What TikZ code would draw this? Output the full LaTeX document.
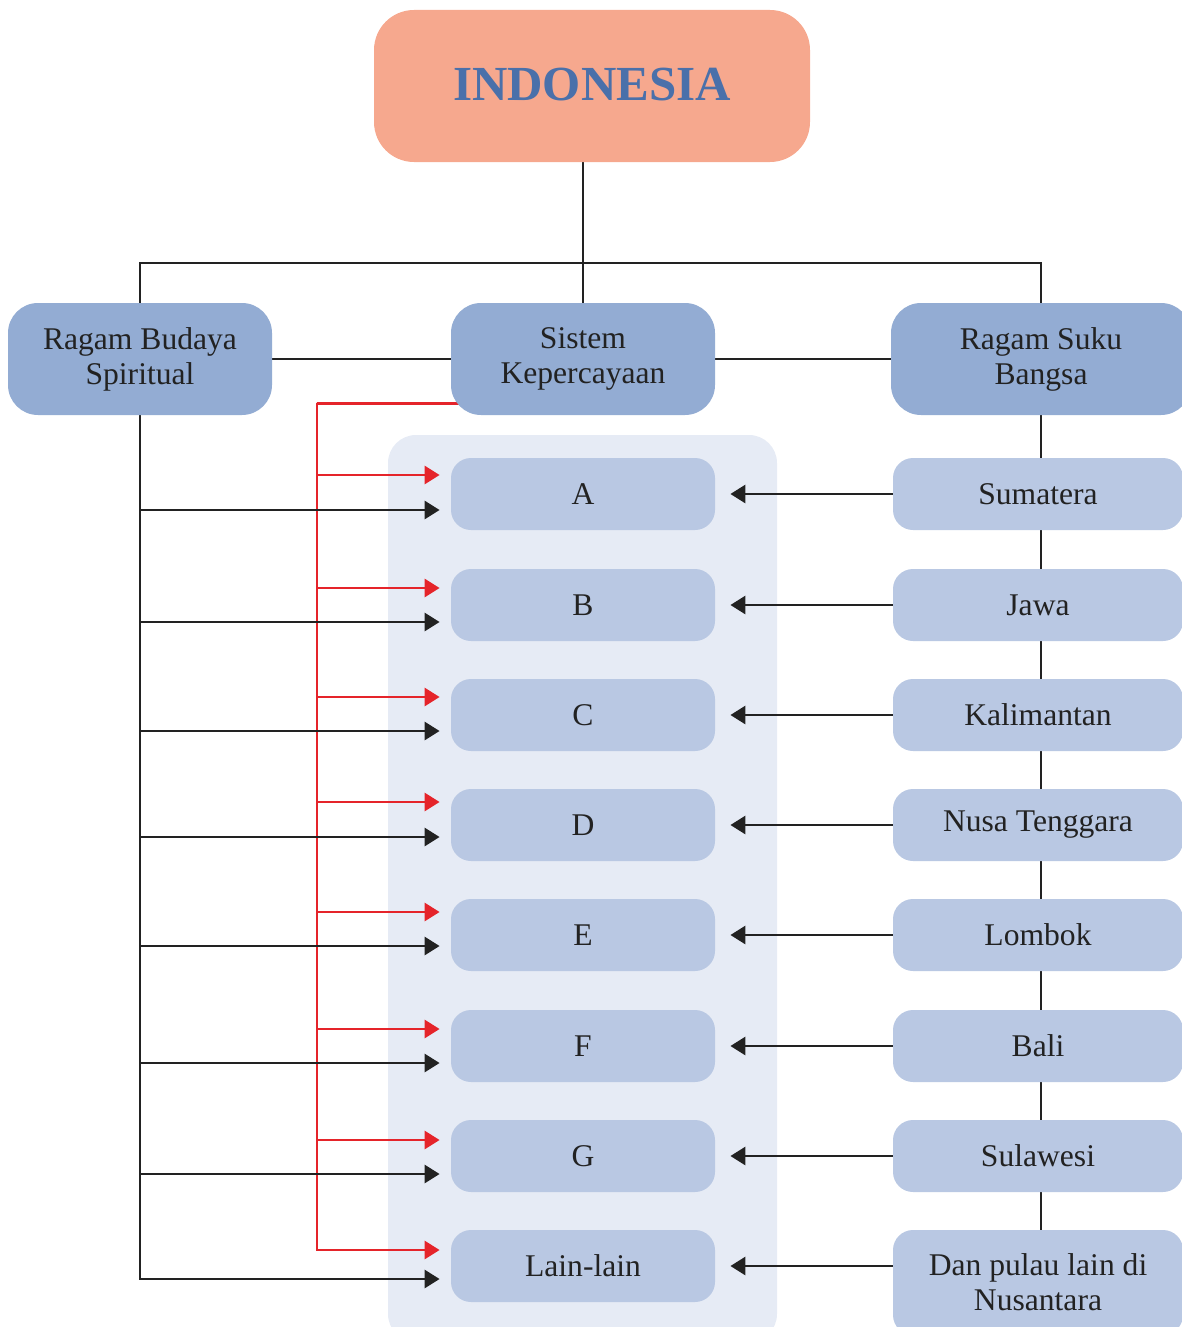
\documentclass[tikz,border=0pt]{standalone}
\usepackage{fontspec}
\setmainfont{Liberation Serif}
\usetikzlibrary{arrows.meta,calc}
\pgfdeclarelayer{panel}
\pgfdeclarelayer{wires}
\pgfsetlayers{panel,wires,main}
\definecolor{peach}{HTML}{F6A88E}
\definecolor{titleblue}{HTML}{4A70AA}
\definecolor{bluebig}{HTML}{93ACD3}
\definecolor{bluesmall}{HTML}{B9C8E3}
\definecolor{panelc}{HTML}{E6EBF5}
\definecolor{ink}{HTML}{222222}
\definecolor{redline}{HTML}{E5242A}
\tikzset{
  txt/.style={font=\fontsize{15.8}{17.5}\selectfont, text=ink, align=center, inner sep=0pt},
  bigbox/.style={txt, fill=bluebig, rounded corners=15pt, minimum width=132pt, minimum height=56pt},
  midbox/.style={txt, fill=bluesmall, rounded corners=10pt, minimum width=132pt, minimum height=36pt},
  sidebox/.style={midbox, minimum width=145pt},
  wire/.style={line width=1.4pt, draw=ink},
  arr/.style={wire, -{Triangle[length=7.5pt,width=9pt]}},
  redarr/.style={line width=1.4pt, draw=redline, -{Triangle[length=7.5pt,width=9pt]}},
}
\begin{document}
\begin{tikzpicture}[x=0.5pt,y=-0.5pt]
\useasboundingbox (0,0) rectangle (1182,1327);
\clip (0,0) rectangle (1182,1327);

% light panel behind the middle column
\begin{pgfonlayer}{panel}
  \fill[panelc, rounded corners=14pt] (388,435) rectangle (777,1342);
\end{pgfonlayer}

% title
\node[fill=peach, rounded corners=20pt, minimum width=218pt, minimum height=76pt,
      font=\fontsize{24.5}{28}\selectfont\bfseries, text=titleblue] (indo) at (592,86) {\raisebox{2pt}{INDONESIA}};

% second level
\node[bigbox] (rbs) at (140,359) {Ragam Budaya\\Spiritual};
\node[bigbox] (sk)  at (583,359)   {Sistem\\Kepercayaan};
\node[bigbox, minimum width=150pt] (rsb) at (1041,359) {Ragam Suku\\Bangsa};

% middle column
\node[midbox] (A) at (583,494)  {A};
\node[midbox] (B) at (583,605)  {B};
\node[midbox] (C) at (583,715)  {C};
\node[midbox] (D) at (583,825)  {D};
\node[midbox] (E) at (583,935)  {E};
\node[midbox] (F) at (583,1046) {F};
\node[midbox] (G) at (583,1156) {G};
\node[midbox] (L) at (583,1266) {Lain-lain};

% right column
\node[sidebox] (r1) at (1038,494)  {Sumatera};
\node[sidebox] (r2) at (1038,605)  {Jawa};
\node[sidebox] (r3) at (1038,715)  {Kalimantan};
\node[sidebox] (r4) at (1038,825)  {Nusa Tenggara};
\node[sidebox] (r5) at (1038,935)  {Lombok};
\node[sidebox] (r6) at (1038,1046) {Bali};
\node[sidebox] (r7) at (1038,1156) {Sulawesi};
\node[sidebox, minimum height=52.5pt] (r8) at (1038,1282.5) {Dan pulau lain di\\Nusantara};

\coordinate (bus) at (583,263);
\coordinate (redx) at (317,403);

\begin{pgfonlayer}{wires}
  % tree from the title
  \draw[wire] (sk.north) -- (sk.north |- indo.south);
  \draw[wire] (rbs.north) |- (bus) -| (rsb.north);
  \draw[wire] (rbs.east) -- (sk.west);
  \draw[wire] (sk.east) -- (rsb.west);
  \draw[wire] (rsb.south) -- (rsb.south |- r8.north);

  % arrow end points beside each middle box
  \foreach \n/\ro/\bo in {A/9.5pt/-8pt, B/8.5pt/-8.5pt, C/9pt/-8pt, D/11.5pt/-6pt,
                          E/11.5pt/-5.5pt, F/8.5pt/-8.5pt, G/8pt/-9pt, L/8pt/-6.5pt}{
    \coordinate (\n-r) at ([shift={(-5.5pt,\ro)}]\n.west);
    \coordinate (\n-b) at ([shift={(-5.5pt,\bo)}]\n.west);
  }

  % red branch from Sistem Kepercayaan
  \draw[redarr] ([yshift=6pt]sk.south) -| (redx) -- (redx |- L-r) -- (L-r);
  \foreach \n in {A,B,C,D,E,F,G}{
    \draw[redarr] (redx |- \n-r) -- (\n-r);
  }

  % black branch from Ragam Budaya Spiritual
  \draw[arr] (rbs.south) |- (L-b);
  \foreach \n in {A,B,C,D,E,F,G}{
    \draw[arr] (rbs.south |- \n-b) -- (\n-b);
  }

  % arrows from the islands
  \foreach \n/\r in {A/r1,B/r2,C/r3,D/r4,E/r5,F/r6,G/r7}{
    \draw[arr] (\r.west) -- ([xshift=7.5pt]\n.east);
  }
  \draw[arr] (r8.west |- L) -- ([xshift=7.5pt]L.east);
\end{pgfonlayer}
\end{tikzpicture}
\end{document}
